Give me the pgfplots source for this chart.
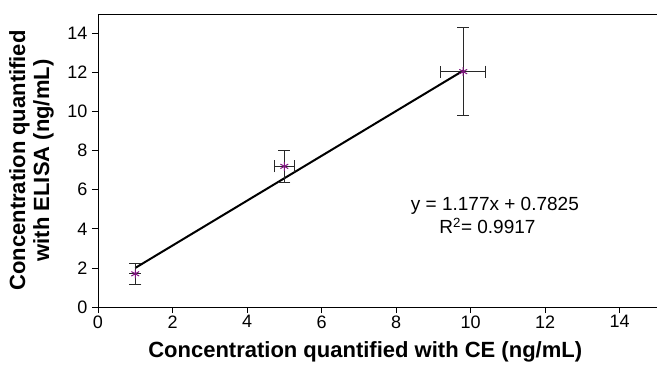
\documentclass[border=0pt]{standalone}
\usepackage{pgfplots}
\pgfplotsset{compat=1.18}
\usepackage{fontspec}
\setmainfont{Liberation Sans}
\definecolor{mk}{RGB}{128,20,128}
\definecolor{eb}{RGB}{40,40,40}
\begin{document}
\begin{tikzpicture}
\begin{axis}[
  scale only axis,
  width=559pt, height=293pt,
  xmin=0, xmax=15, ymin=0, ymax=15,
  axis x line*=bottom, axis y line*=left,
  axis line style={line width=0.9pt, -},
  xtick={0,2,...,14}, ytick={0,2,...,14},
  tick align=outside, major tick length=6pt,
  tick style={line width=0.8pt, black},
  tick label style={font=\fontsize{18}{20}\selectfont},
  xticklabel style={yshift=1pt},
  yticklabel style={xshift=-1pt},
  /pgf/number format/assume math mode=true,
  xlabel={\textbf{Concentration quantified with CE (ng/mL)}},
  ylabel={\textbf{Concentration quantified}\\\textbf{with ELISA (ng/mL)}},
  ylabel style={align=center, font=\fontsize{22}{24}\selectfont, at={(rel axis cs:-0.119,0.5)}, anchor=center},
  xlabel style={font=\fontsize{22}{24}\selectfont, at={(rel axis cs:0.478,0)}, anchor=base, yshift=-50pt},
  clip=false,
]
\draw[line width=0.9pt] (rel axis cs:0,1) -- (rel axis cs:1,1);
\addplot[black, line width=2pt] coordinates {(1.0,2.0) (9.8,12.1)};
\addplot[only marks, mark=asterisk, mark size=4.5pt, mark options={mk, line width=1pt},
  error bars/.cd, x dir=both, x explicit, y dir=both, y explicit,
  error bar style={eb, line width=0.9pt},
  error mark options={rotate=90, mark size=6pt, eb, line width=0.9pt}]
  table[x=x, y=y, x error=ex, y error=ey] {
x y ex ey
1.0 1.7 0.0 0.55
5.0 7.2 0.27 0.8
9.8 12.05 0.6 2.25
};
\node[font=\fontsize{19}{21}\selectfont, anchor=base] at (axis cs:10.65,4.95) {y = 1.177x + 0.7825};
\node[font=\fontsize{19}{21}\selectfont, anchor=base] at (axis cs:10.45,3.75) {R\textsuperscript{2}= 0.9917};
\end{axis}
\pgfresetboundingbox
\path[use as bounding box] (-98pt,-58pt) rectangle (559pt,307pt);
\end{tikzpicture}
\end{document}
